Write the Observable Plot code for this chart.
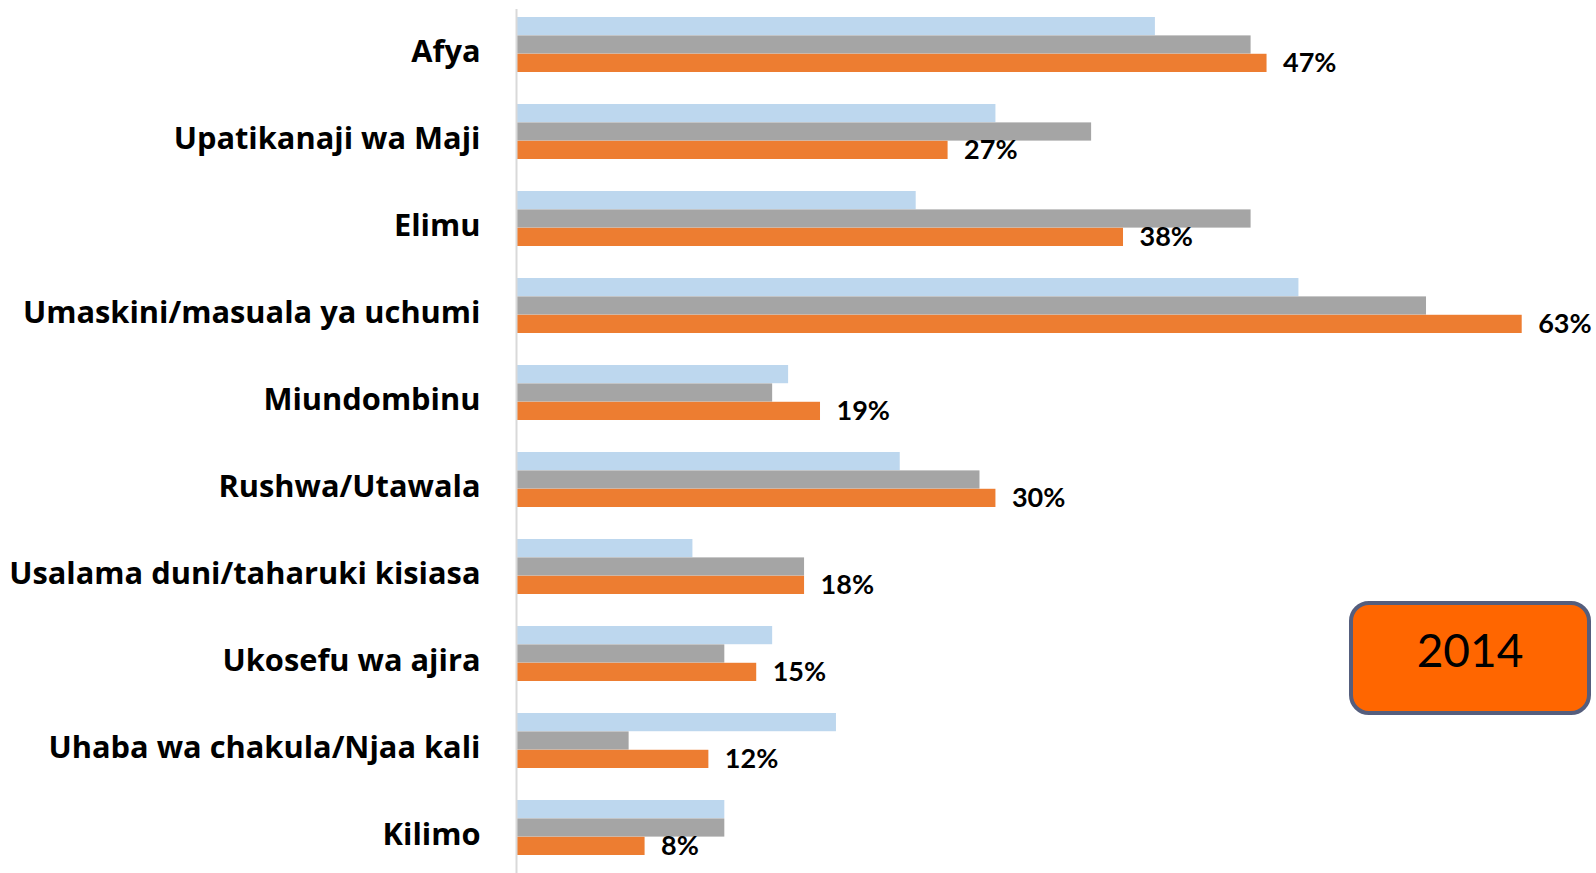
<!DOCTYPE html>
<html>
<head>
<meta charset="utf-8">
<script src="https://cdn.jsdelivr.net/npm/d3@7"></script>
<script src="https://cdn.jsdelivr.net/npm/@observablehq/plot@0.6"></script>
<style>
  html, body { margin: 0; padding: 0; background: #fff; }
  #wrap { position: relative; width: 1596px; height: 873px; }
  #badge {
    position: absolute; left: 1349px; top: 601px; width: 242px; height: 114px;
    box-sizing: border-box; border: 4px solid #555e7d; border-radius: 20px;
    background: #ff6600; color: #000; font-family: Lato, "Open Sans", sans-serif;
    font-size: 46px; display: flex; align-items: center; justify-content: center;
    padding-bottom: 18px;
  }
  g[aria-label="y-axis tick label"] text { font-family: "Open Sans", sans-serif; }
</style>
</head>
<body>
<div id="wrap"><div id="badge">2014</div></div>
<script>
const categories = [
  "Afya",
  "Upatikanaji wa Maji",
  "Elimu",
  "Umaskini/masuala ya uchumi",
  "Miundombinu",
  "Rushwa/Utawala",
  "Usalama duni/taharuki kisiasa",
  "Ukosefu wa ajira",
  "Uhaba wa chakula/Njaa kali",
  "Kilimo"
];
const seriesNames = ["Mfululizo 1", "Mfululizo 2", "2014"];
const seriesColors = ["#bdd7ee", "#a5a5a5", "#ed7d31"];
const valuesBlue   = [40, 30, 25, 49, 17, 24, 11, 16, 20, 13];
const valuesGray   = [46, 36, 46, 57, 16, 29, 18, 13, 7, 13];
const valuesOrange = [47, 27, 38, 63, 19, 30, 18, 15, 12, 8];
const labelCategories = categories;

const seriesValues = [valuesBlue, valuesGray, valuesOrange];
const rows = seriesValues.map((vals, s) =>
  categories.map((c, i) => ({category: c, series: seriesNames[s], value: vals[i]}))
);

const height = 873;
const paddingInner = 0.368;
const step = height / categories.length; // outer padding = inner/2
const band = step * (1 - paddingInner);
const barH = band / 3;

const barMarks = rows.map((data, s) =>
  Plot.barX(data, {
    x: "value",
    y: "category",
    fill: seriesColors[s],
    insetTop: s * barH,
    insetBottom: (2 - s) * barH
  })
);

const chart = Plot.plot({
  width: 1596,
  height,
  marginLeft: 517,
  marginRight: 74.3,
  marginTop: 0,
  marginBottom: 0,
  style: {fontFamily: "Lato, 'Open Sans', sans-serif", background: "transparent"},
  x: {domain: [0, 63], axis: null},
  y: {domain: categories, range: [-1, 872], paddingInner, paddingOuter: paddingInner / 2, label: null},
  marks: [
    ...barMarks,
    Plot.ruleX([0], {stroke: "#d9d9d9", strokeWidth: 2, dx: -1, insetTop: 9}),
    Plot.text(rows[2], {
      x: "value",
      y: "category",
      text: d => d.value + "%",
      textAnchor: "start",
      dx: 16,
      dy: barH,
      fontSize: 27,
      fontWeight: "bold",
      fill: "#000"
    }),
    Plot.axisY(labelCategories, {
      tickSize: 0,
      tickPadding: 37,
      dy: 7,
      fontSize: 30.8,
      fontWeight: "bold",
      fill: "#000",
      label: null
    })
  ]
});
document.getElementById("wrap").prepend(chart);
chart.style.position = "absolute";
chart.style.left = "0";
chart.style.top = "0";
</script>
</body>
</html>
